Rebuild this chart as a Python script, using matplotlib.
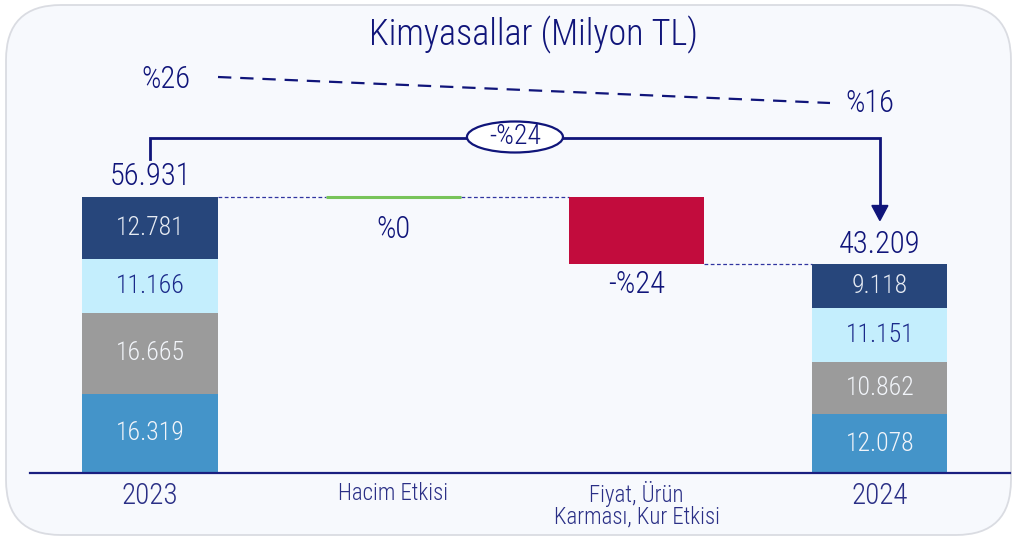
import matplotlib
matplotlib.use("Agg")
import matplotlib.pyplot as plt
from matplotlib import font_manager as fm
from matplotlib.patches import FancyBboxPatch, Ellipse, Polygon

# ---------------- data ----------------
categories = ["2023", "Hacim Etkisi", "Fiyat, Ürün\nKarması, Kur Etkisi", "2024"]
seg_2023 = [16319, 16665, 11166, 12781]   # bottom -> top
seg_2024 = [12078, 10862, 11151, 9118]
seg_colors = ["#4494C9", "#9B9B9B", "#C4EEFD", "#27467B"]
seg_text_colors = ["#F2F5FA", "#F2F5FA", "#1B2A8A", "#E6EBF3"]
total_2023 = 56931
total_2024 = 43209
hacim_change = 0
fiyat_change = total_2024 - total_2023
hacim_label = "%0"
fiyat_label = "-%24"
overall_label = "-%24"
margin_start_label = "%26"
margin_end_label = "%16"
title = "Kimyasallar (Milyon TL)"

def fmt(v):
    return f"{v:,}".replace(",", ".")

# ---- font choice: prefer a narrow family ----
fonts = fm.fontManager.ttflist
names = {f.name for f in fonts}
FAM, STRETCH = "Roboto", "normal"
if "Roboto Condensed" in names:
    FAM = "Roboto Condensed"
elif "Liberation Sans Narrow" in names:
    FAM = "Liberation Sans Narrow"
elif any(f.name == "DejaVu Sans" and str(f.stretch) in ("condensed", "semi-condensed")
         for f in fonts):
    FAM, STRETCH = "DejaVu Sans", "condensed"
HAS_LIGHT = any(f.name == FAM and f.weight in (300, "light") for f in fonts)
LIGHT = "light" if HAS_LIGHT else "normal"
FAMILY = [FAM, "DejaVu Sans"]

def T(x, y, s, size, color, weight=None, **kw):
    return ax.text(x, y, s, fontsize=size, color=color, family=FAMILY,
                   fontstretch=STRETCH, fontweight=weight or LIGHT, **kw)

NAVY = "#10157A"

W, H = 1017, 540
fig = plt.figure(figsize=(W / 100, H / 100), dpi=100)
fig.patch.set_facecolor("white")

panel = FancyBboxPatch((6, 5), W - 12, H - 10,
                       boxstyle="round,pad=0,rounding_size=55",
                       transform=None, facecolor="#F7F9FD",
                       edgecolor="#DADCE2", linewidth=1.3, zorder=-10)
fig.patches.append(panel)

ax = fig.add_axes([0, 0, 1, 1])
ax.set_facecolor("none")
ax.axis("off")

XS = 243.3
YS = total_2023 / (473 - 197)
x0px, base_px = 150, 473
ax.set_xlim(-x0px / XS, (W - x0px) / XS)
ax.set_ylim(-(H - base_px) * YS, base_px * YS)

def dy(px):
    return px * YS

def dx(px):
    return px / XS

bw = 135 / XS

# stacked bars
for xi, segs in ((0, seg_2023), (3, seg_2024)):
    bottom = 0
    for v, c, tc in zip(segs, seg_colors, seg_text_colors):
        ax.bar(xi, v, bottom=bottom, width=bw, color=c, edgecolor="none", zorder=2)
        T(xi, bottom + v / 2, fmt(v), 18.5, tc, ha="center", va="center", zorder=3)
        bottom += v

# totals
T(0, total_2023 + dy(12), fmt(total_2023), 22, NAVY, ha="center", va="baseline")
T(3, total_2024 + dy(11), fmt(total_2024), 22, NAVY, ha="center", va="baseline")

# Hacim (zero change -> green line)
ax.plot([1 - bw / 2, 1 + bw / 2], [total_2023, total_2023], color="#78C45A",
        lw=2.2, zorder=3, solid_capstyle="butt")
T(1, total_2023 - dy(33), hacim_label, 22, NAVY, ha="center", va="center")

# Fiyat (negative)
ax.bar(2, -fiyat_change, bottom=total_2024, width=bw, color="#C20C3D",
       edgecolor="none", zorder=2)
T(2, total_2024 - dy(21), fiyat_label, 22, NAVY, ha="center", va="center")

# connectors
cl = dict(color="#3035A0", lw=0.9, ls=(0, (3, 2)), zorder=1)
ax.plot([0 + bw / 2, 1 - bw / 2], [total_2023, total_2023], **cl)
ax.plot([1 + bw / 2, 2 - bw / 2], [total_2023, total_2023], **cl)
ax.plot([2 + bw / 2, 3 - bw / 2], [total_2024, total_2024], **cl)

# baseline
ax.plot([dx(30 - x0px), dx(1010 - x0px)], [0, 0], color="#1A1F80", lw=1.6, zorder=4)

# category labels
CAT = "#2A2F86"
T(0, -dy(23), categories[0], 21, CAT, ha="center", va="center")
T(3, -dy(23), categories[3], 21, CAT, ha="center", va="center")
T(1, -dy(21), categories[1], 16.5, CAT, ha="center", va="center")
for i, line in enumerate(categories[2].split("\n")):
    T(2, -dy(21 + 23 * i), line, 16.5, CAT, ha="center", va="center")

# bracket with arrow
y_br = total_2023 + dy(59)
y_left_end = total_2023 + dy(38)
y_tip = total_2024 + dy(43)
ax.plot([0, 0, 3, 3], [y_left_end, y_br, y_br, y_tip + dy(10)],
        color=NAVY, lw=2.0, zorder=5, solid_joinstyle="miter")
ax.add_patch(Polygon([[3 - dx(8), y_tip + dy(15)], [3 + dx(8), y_tip + dy(15)],
                      [3, y_tip]], closed=True, color=NAVY, zorder=5))
ax.add_patch(Ellipse((1.5, y_br + dy(1)), dx(96), dy(31), facecolor="white",
                     edgecolor=NAVY, lw=1.6, zorder=6))
T(1.5, y_br + dy(1), overall_label, 20, NAVY, ha="center", va="center", zorder=7)

# margin dashed line
y_m1 = total_2023 + dy(120)
y_m2 = total_2023 + dy(94)
ax.plot([dx(218 - x0px), dx(830 - x0px)], [y_m1, y_m2], color=NAVY, lw=1.6,
        ls=(0, (6, 4)))
T(dx(166 - x0px), total_2023 + dy(118), margin_start_label, 22, NAVY,
  ha="center", va="center")
T(dx(870 - x0px), total_2023 + dy(94), margin_end_label, 22, NAVY,
  ha="center", va="center")

# title
T(1.575, base_px * YS - dy(35), title, 26, NAVY, ha="center", va="center")

fig.savefig("out.png", dpi=100)
